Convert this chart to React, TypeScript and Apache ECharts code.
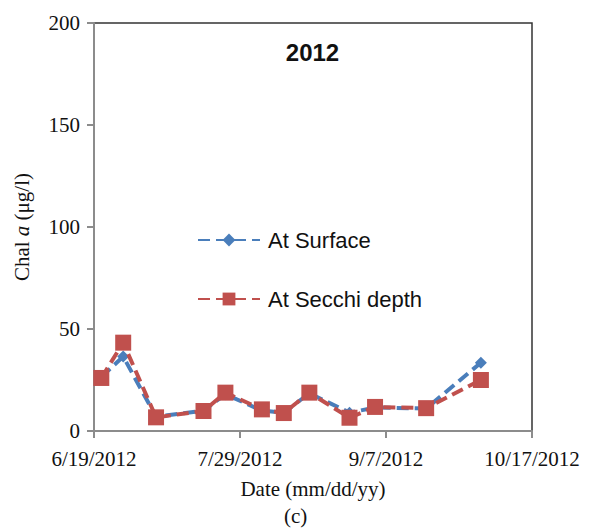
import React, { useEffect, useRef } from "react";
import * as echarts from "echarts";

// Sampling dates (2012)
const dates = ["6/21/2012", "6/27/2012", "7/6/2012", "7/19/2012", "7/25/2012", "8/4/2012", "8/10/2012", "8/17/2012", "8/28/2012", "9/4/2012", "9/18/2012", "10/3/2012"];
const surface = [26.5, 36.5, 7, 10, 18, 10, 9, 18.5, 9, 11.5, 11, 33.5];
const secchi = [26, 43.3, 6.7, 9.8, 18.8, 10.6, 8.8, 18.8, 6.5, 11.8, 11.2, 25];
const xTickDates = ["6/19/2012", "7/29/2012", "9/7/2012", "10/17/2012"];
const yTicks = [0, 50, 100, 150, 200];

const DAY = 86400000;
const parse = (s: string) => {
  const [m, d, y] = s.split("/").map(Number);
  return Date.UTC(y, m - 1, d);
};
const origin = parse(xTickDates[0]);
const toDay = (s: string) => Math.round((parse(s) - origin) / DAY);
const fmt = (day: number) => {
  const dt = new Date(origin + day * DAY);
  return `${dt.getUTCMonth() + 1}/${dt.getUTCDate()}/${dt.getUTCFullYear()}`;
};

export default function App() {
  const ref = useRef<HTMLDivElement>(null);
  useEffect(() => {
    if (!ref.current) return;
    const chart = echarts.init(ref.current, null, { renderer: "svg" });
    const xMax = toDay(xTickDates[xTickDates.length - 1]);
    const xInterval = toDay(xTickDates[1]);
    const serif = "'Liberation Serif', 'Times New Roman', serif";
    const sans = "'Liberation Sans', Arial, sans-serif";
    chart.setOption({
      animation: false,
      backgroundColor: "#ffffff",
      title: {
        text: "2012",
        left: 299.5,
        top: 27.5,
        textAlign: "center",
        textStyle: { fontFamily: sans, fontWeight: "bold", fontSize: 24, color: "#111" },
      },
      grid: {
        left: 86,
        right: 53,
        top: 15,
        bottom: 100,
        containLabel: false,
        outerBoundsMode: "none",
        show: true,
        borderColor: "#333",
        borderWidth: 1.5,
        backgroundColor: "transparent",
      },
      legend: {
        orient: "vertical",
        left: 184,
        top: 216,
        itemGap: 37,
        itemWidth: 62,
        itemHeight: 16,
        textStyle: { fontFamily: sans, fontSize: 22, lineHeight: 22, color: "#111", padding: [0, 0, 0, 3] },
        data: ["At Surface", "At Secchi depth"],
      },
      xAxis: {
        type: "value",
        min: 0,
        max: xMax,
        interval: xInterval,
        name: "Date (mm/dd/yy)",
        nameLocation: "middle",
        nameGap: 47,
        nameTextStyle: { fontFamily: serif, fontSize: 21, color: "#111" },
        axisLine: { lineStyle: { color: "#8c8c8c", width: 2 } },
        axisTick: { show: true, length: 7, lineStyle: { color: "#8c8c8c", width: 2 } },
        axisLabel: {
          formatter: (v: number) => fmt(v),
          fontFamily: serif,
          fontSize: 21,
          color: "#111",
          margin: 17,
        },
        splitLine: { show: false },
      },
      yAxis: {
        type: "value",
        min: 0,
        max: 200,
        interval: 50,
        name: "{n|Chal }{i|a}{n| (μg/l)}",
        nameLocation: "middle",
        nameRotate: 90,
        nameGap: 62,
        nameTextStyle: {
          rich: {
            n: { fontFamily: serif, fontSize: 21, color: "#111" },
            i: { fontFamily: serif, fontSize: 21, fontStyle: "italic", color: "#111" },
          },
        },
        axisLine: { show: true, lineStyle: { color: "#8c8c8c", width: 2 } },
        axisTick: { show: true, length: 7, lineStyle: { color: "#8c8c8c", width: 2 } },
        axisLabel: {
          formatter: (v: number) => (yTicks.includes(v) ? String(v) : ""),
          fontFamily: serif,
          fontSize: 21,
          color: "#111",
          margin: 14,
        },
        splitLine: { show: false },
      },
      series: [
        {
          name: "At Surface",
          type: "line",
          data: dates.map((d, i) => [toDay(d), surface[i]]),
          symbol: "diamond",
          symbolSize: 12,
          itemStyle: { color: "#4a7ebb" },
          lineStyle: { color: "#4a7ebb", width: 4, type: [12, 6] },
          z: 2,
        },
        {
          name: "At Secchi depth",
          type: "line",
          data: dates.map((d, i) => [toDay(d), secchi[i]]),
          symbol: "rect",
          symbolSize: 16,
          itemStyle: { color: "#c0504d" },
          lineStyle: { color: "#c0504d", width: 4, type: [12, 6] },
          z: 3,
        },
      ],
      graphic: [
        {
          type: "text",
          left: 276,
          top: 497,
          style: { text: "(c)", fontFamily: serif, fontSize: 21, fill: "#111" },
        },
      ],
    });
    return () => chart.dispose();
  }, []);
  return <div ref={ref} style={{ width: 577, height: 523 }} />;
}
